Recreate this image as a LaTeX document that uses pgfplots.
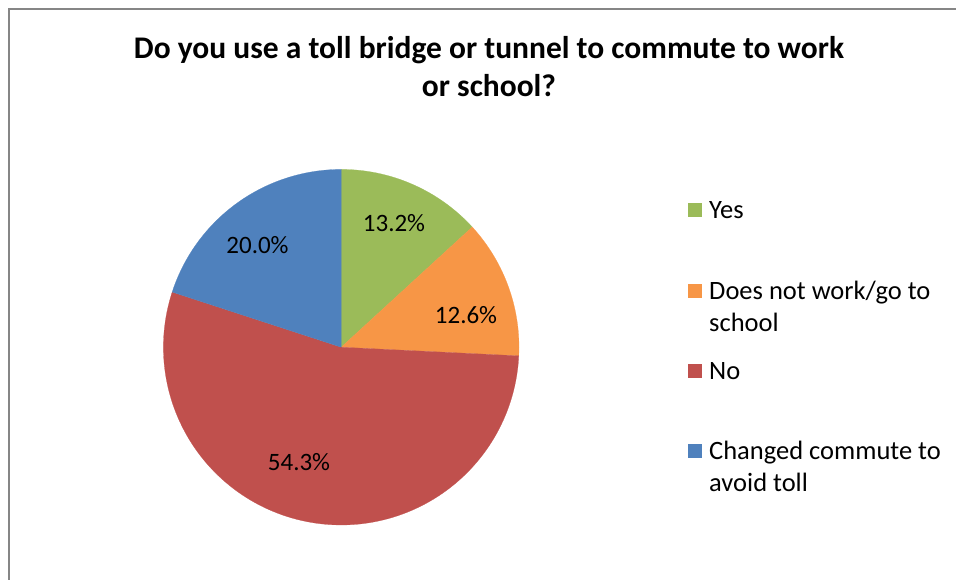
\documentclass[border=0pt]{standalone}
\usepackage{pgfplots}
\pgfplotsset{compat=1.18}
\usepackage{fontspec}
\setmainfont{Carlito}

\definecolor{cgreen}{HTML}{9BBB59}
\definecolor{corange}{HTML}{F79646}
\definecolor{cred}{HTML}{C0504D}
\definecolor{cblue}{HTML}{4F81BD}
\definecolor{framegray}{HTML}{868686}

% shares in percent, clockwise from 12 o'clock
\def\sYes{13.2}
\def\sNotWork{12.6}
\def\sNo{54.3}
\def\sChanged{20.0}
\pgfmathsetmacro\total{\sYes+\sNotWork+\sNo+\sChanged}
\pgfmathsetmacro\deg{360/\total}
\pgfmathsetmacro\aA{90}
\pgfmathsetmacro\aB{90-\deg*\sYes}
\pgfmathsetmacro\aC{\aB-\deg*\sNotWork}
\pgfmathsetmacro\aD{\aC-\deg*\sNo}
\pgfmathsetmacro\aE{-270}

\begin{document}
\begin{tikzpicture}[x=1bp, y=1bp]
\useasboundingbox (0,0) rectangle (956,-580);
\begin{scope}
\clip (0,0) rectangle (956,-580);
\draw[framegray, line width=1.5bp] (9,-600) -- (9,-9) -- (970,-9);
\end{scope}

% title
\node[anchor=base, inner sep=0] at (489,-59) {\fontsize{31.5bp}{38bp}\selectfont\bfseries Do you use a toll bridge or tunnel to commute to work};
\node[anchor=base, inner sep=0] at (489,-97) {\fontsize{31.5bp}{38bp}\selectfont\bfseries or school?};

\begin{axis}[hide axis, x=1bp, y=1bp, xmin=-180, xmax=180, ymin=-180, ymax=180,
  anchor=center, at={(341.2,-347.2)}, clip=false,
  every axis plot/.append style={line width=0.2bp, samples=120}]
  \addplot[fill=cgreen, draw=cgreen, domain=\aB:\aA] ({177.8*cos(x)},{177.8*sin(x)}) -- (axis cs:0,0) -- cycle;
  \addplot[fill=corange, draw=corange, domain=\aC:\aB] ({177.8*cos(x)},{177.8*sin(x)}) -- (axis cs:0,0) -- cycle;
  \addplot[fill=cred, draw=cred, domain=\aD:\aC] ({177.8*cos(x)},{177.8*sin(x)}) -- (axis cs:0,0) -- cycle;
  \addplot[fill=cblue, draw=cblue, domain=\aE:\aD] ({177.8*cos(x)},{177.8*sin(x)}) -- (axis cs:0,0) -- cycle;
\end{axis}

% data labels
\begin{scope}[every node/.style={anchor=base, inner sep=0, font=\fontsize{25bp}{30bp}\selectfont}]
\node at (394,-232) {13.2\%};
\node at (466,-323) {12.6\%};
\node at (299,-470) {54.3\%};
\node at (257.5,-254) {20.0\%};
\end{scope}

% legend
\begin{scope}[every node/.style={anchor=base west, inner sep=0, font=\fontsize{26.5bp}{32bp}\selectfont}]
\fill[cgreen] (687.5,-203.5) rectangle (701.5,-217.5);
\node at (709,-219) {Yes};
\fill[corange] (687.5,-283.5) rectangle (701.5,-297.5);
\node at (709,-299) {Does not work/go to};
\node at (709,-331) {school};
\fill[cred] (687.5,-363.5) rectangle (701.5,-377.5);
\node at (709,-379) {No};
\fill[cblue] (687.5,-443.5) rectangle (701.5,-457.5);
\node at (709,-459) {Changed commute to};
\node at (709,-491) {avoid toll};
\end{scope}
\end{tikzpicture}
\end{document}
